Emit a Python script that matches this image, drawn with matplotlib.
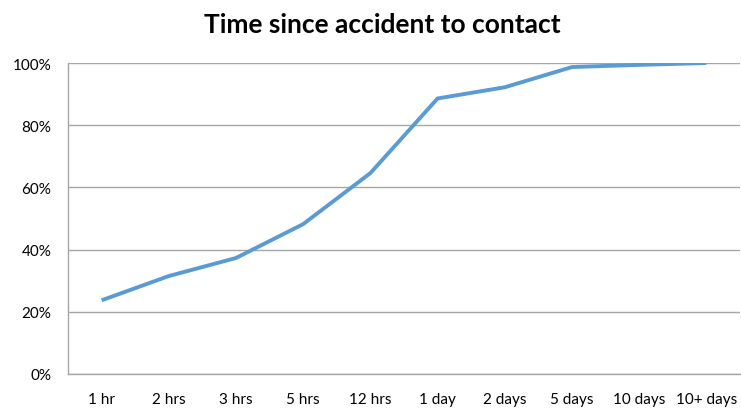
import matplotlib
matplotlib.use('Agg')
import matplotlib.pyplot as plt
from matplotlib.ticker import PercentFormatter

# data
categories = ['1 hr', '2 hrs', '3 hrs', '5 hrs', '12 hrs', '1 day', '2 days', '5 days', '10 days', '10+ days']
share = [23.7, 31.5, 37.3, 48.2, 64.6, 88.6, 92.2, 98.7, 99.4, 100.0]

plt.rcParams['font.family'] = ['Lato', 'DejaVu Sans']

fig = plt.figure(figsize=(7.41, 4.10), dpi=100)
ax = fig.add_axes([68/741, 1-375/410, 672/741, (375-64)/410])

x = range(len(categories))
ax.plot(x, share, color='#5b9bd5', linewidth=2.8, solid_capstyle='butt', zorder=3)

ax.set_xlim(-0.5, len(categories) - 0.5)
ax.set_ylim(0, 100)
ax.set_yticks(range(0, 101, 20))
ax.yaxis.set_major_formatter(PercentFormatter(decimals=0))
ax.set_xticks(list(x))
ax.set_xticklabels(categories)
ax.tick_params(length=0, labelsize=11, colors='#000000')
ax.tick_params(axis='y', pad=12)
ax.tick_params(axis='x', pad=13)

ax.grid(axis='y', color='#a6a6a6', linewidth=1)
ax.set_axisbelow(True)
for side in ['top', 'right']:
    ax.spines[side].set_visible(False)
for side in ['left', 'bottom']:
    ax.spines[side].set_color('#a6a6a6')
    ax.spines[side].set_linewidth(1)

fig.text(382/741, 1-25/410, 'Time since accident to contact', ha='center', va='center',
         fontsize=19, fontweight='bold')

fig.savefig('out.png', dpi=100)
